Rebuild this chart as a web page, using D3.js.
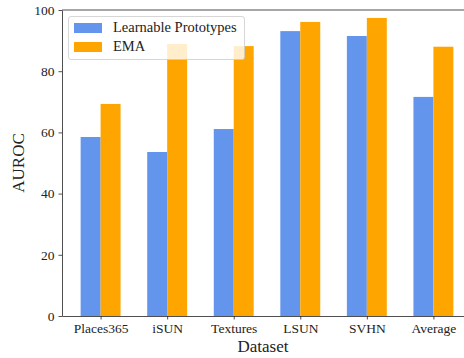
<!DOCTYPE html>
<html lang="en">
<head>
    <meta charset="UTF-8">
    <title>auroc bars</title>
    <script src="https://cdn.jsdelivr.net/npm/d3@7"></script>
    <style>
        body { margin: 0; background: #fff; }
        text { font-family: "Liberation Serif", "DejaVu Serif", serif; fill: #222; }
    </style>
</head>
<body>
<svg id="main" width="464" height="358"></svg>
<script>
    // data
    let datasets = ["Places365", "iSUN", "Textures", "LSUN", "SVHN", "Average"];
    let learnable = [58.5, 53.6, 61.1, 93.1, 91.5, 71.6];
    let ema = [69.3, 88.9, 88.2, 96.1, 97.4, 88.0];
    let series_names = ["Learnable Prototypes", "EMA"];
    let series_colors = ["#6495ED", "#FFA500"];
    let y_ticks = [0, 20, 40, 60, 80, 100];

    let svg = d3.select("#main");
    let m_left = 62, m_right = 472, m_top = 10, m_bottom = 316;

    // matplotlib-ish xlim: -0.58 .. 5.58
    let x = d3.scaleLinear().domain([-0.58, 5.58]).range([m_left, m_right]);
    let y = d3.scaleLinear().domain([0, 100]).range([m_bottom, m_top]);
    let bw = 0.3;

    let all = [learnable, ema];
    all.forEach(function (vals, s) {
        svg.append("g").selectAll("rect")
            .data(vals)
            .join("rect")
            .attr("x", (d, i) => x(i - bw + s * bw))
            .attr("width", x(bw) - x(0))
            .attr("y", d => y(d))
            .attr("height", d => y(0) - y(d))
            .attr("fill", series_colors[s]);
    });

    // axes
    let xAxis = d3.axisBottom(x)
        .tickValues(d3.range(datasets.length))
        .tickFormat(i => datasets[i])
        .tickSize(3.5).tickSizeOuter(0).tickPadding(4);
    let gx = svg.append("g").attr("transform", `translate(0,${m_bottom})`).call(xAxis);

    let yAxis = d3.axisLeft(y).tickValues(y_ticks).tickSize(3.5).tickSizeOuter(0).tickPadding(4);
    let gy = svg.append("g").attr("transform", `translate(${m_left},0)`).call(yAxis);

    [gx, gy].forEach(function (g) {
        g.selectAll("text").style("font-size", "13.5px").attr("fill", "#222");
        g.selectAll("line").attr("stroke", "#222").attr("stroke-width", 0.8);
        g.select(".domain").attr("stroke", "#222").attr("stroke-width", 0.8);
    });

    // top + right spines
    svg.append("line").attr("x1", m_left).attr("x2", m_right).attr("y1", m_top).attr("y2", m_top)
        .attr("stroke", "#222").attr("stroke-width", 0.8);
    svg.append("line").attr("x1", m_right).attr("x2", m_right).attr("y1", m_top).attr("y2", m_bottom)
        .attr("stroke", "#222").attr("stroke-width", 0.8);

    // axis labels
    svg.append("text").attr("x", (m_left + m_right) / 2 - 4).attr("y", 352)
        .attr("text-anchor", "middle").style("font-size", "17px").text("Dataset");
    svg.append("text").attr("transform", `translate(24,${(m_top + m_bottom) / 2}) rotate(-90)`)
        .attr("text-anchor", "middle").style("font-size", "17px").text("AUROC");

    // legend
    let lg = svg.append("g");
    lg.append("rect").attr("x", 68.5).attr("y", 16.5).attr("width", 176).attr("height", 43)
        .attr("rx", 2.5).attr("fill", "white").attr("fill-opacity", 0.8)
        .attr("stroke", "#ccc").attr("stroke-width", 0.8);
    series_names.forEach(function (name, s) {
        lg.append("rect").attr("x", 74).attr("y", 23 + s * 19).attr("width", 28).attr("height", 10)
            .attr("fill", series_colors[s]);
        lg.append("text").attr("x", 113).attr("y", 32 + s * 19)
            .style("font-size", "14.5px").text(name);
    });
</script>
</body>
</html>
